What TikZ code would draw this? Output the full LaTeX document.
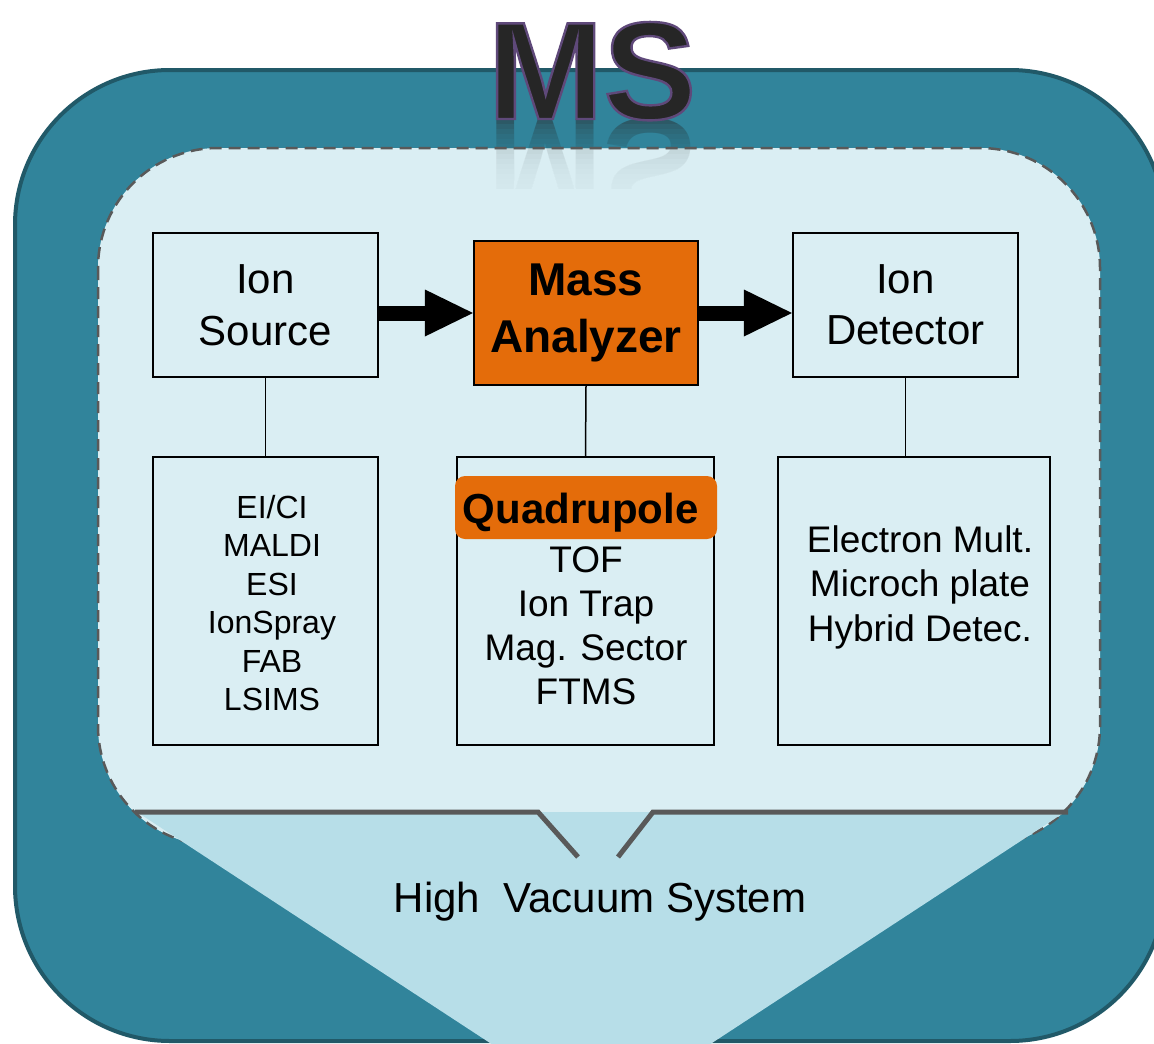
\documentclass[tikz,border=0pt]{standalone}
\usepackage{fontspec}
\setmainfont{Liberation Sans}

\definecolor{shellteal}{HTML}{31849B}
\definecolor{shelledge}{HTML}{215968}
\definecolor{chamber}{HTML}{DAEEF3}
\definecolor{funnelblue}{HTML}{B7DEE8}
\definecolor{pipegray}{HTML}{595959}
\definecolor{hotorange}{HTML}{E46C0A}
\definecolor{inkdark}{HTML}{262626}

\newcommand{\fsz}[2]{\fontsize{#1}{#2}\selectfont}
% glyphs filled and stroked with a thin purple rim
\newcommand{\rimmed}[1]{\special{pdf:literal direct 2 Tr 2.4 w 0.373 0.286 0.478 RG}#1\special{pdf:literal direct 0 Tr}}

\begin{document}
\begin{tikzpicture}[x=1pt,y=-1pt,
  unitbox/.style={draw=black, line width=2.2pt, inner sep=0pt, align=center},
  listtext/.style={inner sep=0pt, align=center, anchor=base},
  link/.style={draw=black, line width=1.5pt},
  flow/.style={draw=black, line width=15pt, shorten >=46pt},
  chamberline/.style={draw=pipegray, line width=2.5pt, dash pattern=on 12pt off 7pt,
    rounded corners=120pt},
  titlefont/.style={font=\bfseries\fsz{139}{139}, inner sep=0pt, anchor=base}]

\useasboundingbox (0,0) rectangle (1154,1044);
\clip (0,0) rectangle (1154,1044);

% outer housing
\draw[shelledge, fill=shellteal, line width=4pt, rounded corners=155pt]
  (15,70) rectangle (1165,1041);

% evacuated chamber
\path[chamberline, fill=chamber] (98,148) rectangle (1100,846);

% pumping funnel
\fill[funnelblue] (137,812) -- (1065,812) -- (686,1060) -- (516,1060) -- cycle;
\draw[pipegray, line width=5pt] (135,812) -- (538,812) -- (578,857);
\draw[pipegray, line width=5pt] (618,857) -- (653,812) -- (1068,812);

% title reflection, faded out by stacked veils of the background colours
\begin{scope}
  \clip (470,119) rectangle (720,188);
  \begin{scope}[shift={(0,119)}, yscale=-1]
    \node[titlefont, transform shape, text=inkdark, text opacity=0.45]
      (msmirror) at (592,0) {MS};
  \end{scope}
\end{scope}
\foreach \k in {1,...,14}{
  \fill[shellteal, opacity=0.21] (470,{min(119+5*\k,148)}) rectangle (720,148);
  \fill[chamber, opacity=0.21] (470,{max(119+5*\k,148)}) rectangle (720,200);
}
\begin{scope}
  \clip (470,138) rectangle (720,158);
  \path[chamberline] (98,148) rectangle (1100,846);
\end{scope}

% title
\node[titlefont, text=inkdark] (ms) at (592,119) {\rimmed{MS}};

% main stages
\node[unitbox, minimum width=225pt, minimum height=144pt, font=\fsz{42}{52}]
  (ionsrc) at (265.5,305) {Ion\\Source};
\node[unitbox, fill=hotorange, minimum width=224pt, minimum height=144pt,
  font=\bfseries\fsz{46}{57}] (mass) at (586,313) {Mass\\Analyzer};
\node[unitbox, minimum width=225pt, minimum height=144pt, font=\fsz{42}{51}]
  (iondet) at (905.5,305) {Ion\\Detector};

% option panels
\node[unitbox, minimum width=225pt, minimum height=288pt] (srcbox) at (265.5,601) {};
\node[unitbox, minimum width=257pt, minimum height=288pt] (anabox) at (585.5,601) {};
\node[unitbox, minimum width=272pt, minimum height=288pt] (detbox) at (914,601) {};

% option lists (anchored at the baseline of their last line)
\node[listtext, font=\fsz{32}{38.5}] (srclist) at (272,710.5)
  {EI/CI\\MALDI\\ESI\\IonSpray\\FAB\\LSIMS};
\node[fill=hotorange, rounded corners=10pt, minimum width=262pt, minimum height=63pt,
  inner sep=0pt, text height=35pt, text depth=4pt, font=\bfseries\fsz{42}{42}]
  (quad) at (586,507.5) {\hspace*{-11pt}Quadrupole};
\node[listtext, font=\fsz{37}{44}] (analist) at (586,704)
  {TOF\\Ion Trap\\Mag. Sector\\FTMS};
\node[listtext, font=\fsz{37}{44.5}] (detlist) at (920,641)
  {Electron Mult.\\Microch plate\\Hybrid Detec.};

% connectors
\draw[link] (ionsrc.south) -- (srcbox.north);
\draw[link] (mass.south) -- (anabox.north);
\draw[link] (iondet.south) -- (iondet.south |- detbox.north);

\draw[flow] (ionsrc.east |- mass.west) -- (mass.west);
\fill (mass.west) -- ++(-48,-23.5) -- ++(0,47) -- cycle;
\draw[flow] (mass.east) -- (iondet.west |- mass.east);
\fill (iondet.west |- mass.east) -- ++(-48,-23.5) -- ++(0,47) -- cycle;

% pumping label
\node[listtext, font=\fsz{42}{50}] (vac) at (600,912) {High\ \ Vacuum System};

\end{tikzpicture}
\end{document}
